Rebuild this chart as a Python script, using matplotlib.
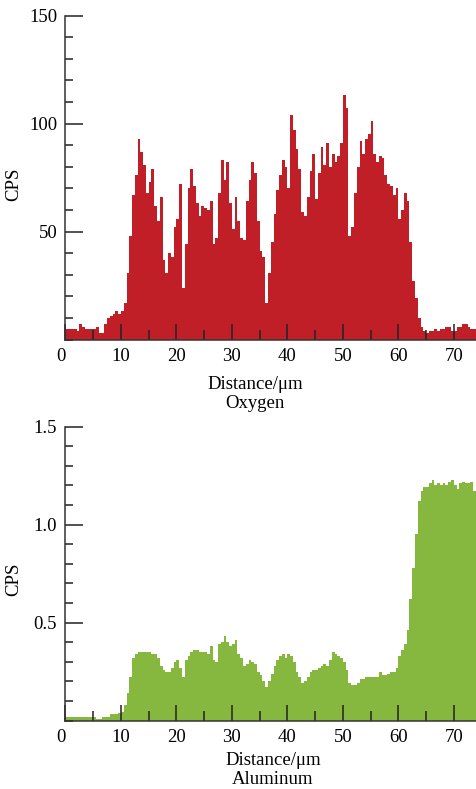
import numpy as np
import matplotlib
matplotlib.use("Agg")
import matplotlib.pyplot as plt
from matplotlib.ticker import MultipleLocator, FormatStrFormatter

plt.rcParams['font.family'] = ['Liberation Serif', 'DejaVu Serif']

# profile sampled every 0.5 um from 0 to 74 um
step = 0.5

oxygen = [5, 5, 5, 5, 4, 7, 6, 5, 5, 5,
          5, 6, 3, 3, 7, 10, 11, 12, 13, 12,
          13, 17, 31, 48, 67, 76, 93, 87, 81, 68,
          73, 79, 62, 55, 66, 37, 31, 40, 38, 52,
          56, 72, 24, 44, 70, 79, 71, 63, 57, 62,
          61, 60, 64, 44, 47, 68, 83, 74, 82, 63,
          51, 66, 55, 47, 46, 64, 74, 82, 77, 55,
          41, 38, 17, 31, 45, 58, 69, 76, 83, 80,
          70, 104, 97, 88, 79, 59, 57, 66, 78, 86,
          65, 77, 89, 81, 91, 80, 86, 82, 85, 91,
          113, 107, 48, 52, 68, 80, 92, 86, 93, 95,
          101, 86, 82, 85, 84, 76, 72, 71, 67, 70,
          56, 60, 68, 64, 45, 27, 19, 10, 6, 4,
          3, 4, 4, 5, 4, 5, 5, 6, 6, 4,
          4, 6, 6, 7, 7, 6, 5, 5]

aluminum = [0.02, 0.02, 0.02, 0.02, 0.02, 0.02, 0.02, 0.02, 0.02, 0.02,
            0.02, 0.01, 0.01, 0.02, 0.02, 0.02, 0.035, 0.035, 0.035, 0.04,
            0.045, 0.08, 0.14, 0.22, 0.32, 0.34, 0.35, 0.35, 0.35, 0.35,
            0.35, 0.34, 0.34, 0.32, 0.28, 0.26, 0.25, 0.25, 0.27, 0.30,
            0.31, 0.27, 0.22, 0.31, 0.33, 0.35, 0.36, 0.36, 0.35, 0.35,
            0.35, 0.34, 0.38, 0.31, 0.30, 0.39, 0.40, 0.43, 0.40, 0.38,
            0.39, 0.41, 0.34, 0.32, 0.28, 0.29, 0.31, 0.30, 0.29, 0.25,
            0.23, 0.20, 0.17, 0.20, 0.24, 0.28, 0.31, 0.33, 0.34, 0.32,
            0.34, 0.33, 0.30, 0.25, 0.22, 0.19, 0.20, 0.22, 0.25, 0.26,
            0.26, 0.27, 0.28, 0.29, 0.28, 0.31, 0.35, 0.34, 0.33, 0.32,
            0.30, 0.26, 0.19, 0.18, 0.18, 0.19, 0.21, 0.21, 0.22, 0.22,
            0.22, 0.22, 0.22, 0.25, 0.23, 0.23, 0.24, 0.25, 0.25, 0.27,
            0.33, 0.36, 0.39, 0.46, 0.62, 0.78, 0.95, 1.12, 1.17, 1.19,
            1.19, 1.21, 1.23, 1.20, 1.21, 1.20, 1.21, 1.20, 1.22, 1.23,
            1.20, 1.18, 1.21, 1.22, 1.21, 1.21, 1.22, 1.17]

x_ticks = [0, 10, 20, 30, 40, 50, 60, 70]
xlabel_o = "Distance/\u03bcm\nOxygen"
xlabel_al = "Distance/\u03bcm\nAluminum"

edges = np.arange(len(oxygen) + 1) * step

fig = plt.figure(figsize=(4.76, 7.89), dpi=100)
ax1 = fig.add_axes([0.1376, 0.5697, 0.8624, 0.4106])
ax2 = fig.add_axes([0.1376, 0.0868, 0.8624, 0.3724])

ax1.fill_between(edges, np.r_[oxygen, oxygen[-1]], step='post', color='#C11F27',
                 lw=0, antialiased=False)
ax2.fill_between(edges, np.r_[aluminum, aluminum[-1]], step='post', color='#86B840',
                 lw=0, antialiased=False)

ax1.set_ylim(0, 150)
ax1.set_yticks([50, 100, 150])
ax1.yaxis.set_minor_locator(MultipleLocator(10))

ax2.set_ylim(0, 1.5)
ax2.set_yticks([0.5, 1.0, 1.5])
ax2.yaxis.set_major_formatter(FormatStrFormatter('%.1f'))
ax2.yaxis.set_minor_locator(MultipleLocator(0.1))

for ax, lab, lx, ly in [(ax1, xlabel_o, 0.462, -0.112), (ax2, xlabel_al, 0.505, -0.108)]:
    ax.set_xlim(0, 74)
    ax.set_xticks(x_ticks)
    ax.xaxis.set_minor_locator(MultipleLocator(5))
    for s in ['top', 'right']:
        ax.spines[s].set_visible(False)
    for s in ['left', 'bottom']:
        ax.spines[s].set_color('#333333')
        ax.spines[s].set_linewidth(1.1)
    ax.tick_params(axis='x', which='major', direction='in', length=11.5, width=1.1,
                   color='#222222', labelsize=13.5, pad=6)
    ax.tick_params(axis='x', which='minor', direction='in', length=7, width=1.1, color='#222222')
    ax.tick_params(axis='y', which='major', direction='in', length=13, width=1.1,
                   color='#222222', labelsize=13.5, pad=6)
    ax.tick_params(axis='y', which='minor', direction='in', length=6, width=1.1, color='#222222')
    ax.set_xlabel(lab, fontsize=13.5, linespacing=1.15)
    ax.xaxis.set_label_coords(lx, ly)
    ax.set_ylabel("CPS", fontsize=13.5)
    ax.yaxis.set_label_coords(-0.105, 0.48)
    ax.get_xticklabels()[0].set_ha('right')

fig.savefig("out.png", dpi=100)
